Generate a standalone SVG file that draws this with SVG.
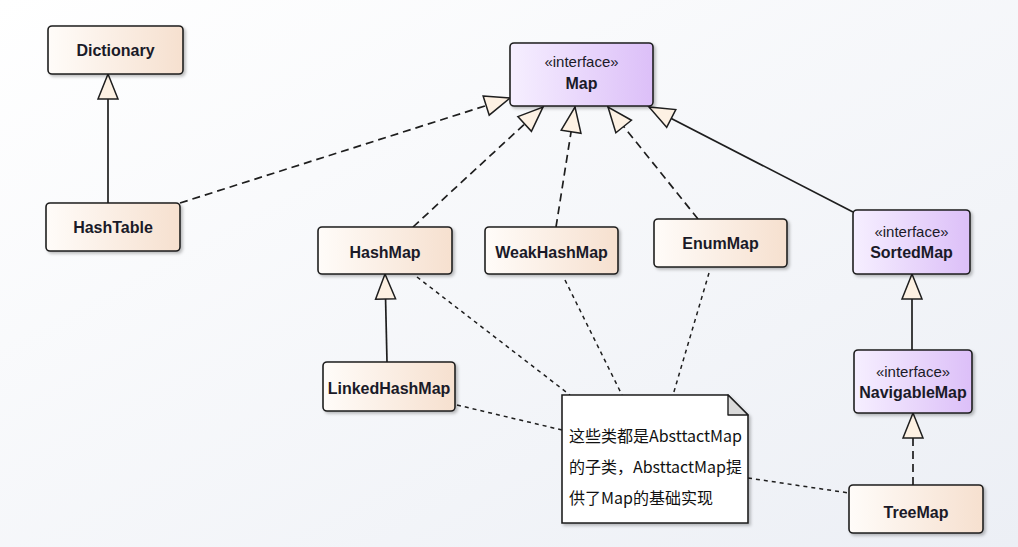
<svg xmlns="http://www.w3.org/2000/svg" width="1018" height="547" viewBox="0 0 1018 547">
<defs>
<linearGradient id="bg" x1="0" y1="0" x2="1" y2="1">
<stop offset="0" stop-color="#ffffff"/>
<stop offset="1" stop-color="#eceff5"/>
</linearGradient>
<linearGradient id="cls" x1="0" y1="0" x2="1" y2="0">
<stop offset="0" stop-color="#fffcf9"/>
<stop offset="1" stop-color="#f6e0cf"/>
</linearGradient>
<linearGradient id="ifc" x1="0" y1="0" x2="1" y2="0">
<stop offset="0" stop-color="#f6efff"/>
<stop offset="1" stop-color="#dcbff8"/>
</linearGradient>
<filter id="sh" x="-10%" y="-10%" width="130%" height="140%">
<feDropShadow dx="2" dy="2" stdDeviation="1.5" flood-color="#000" flood-opacity="0.25"/>
</filter>
<marker id="tri" viewBox="-2 -2 29 24" refX="25" refY="10" markerWidth="29" markerHeight="24" markerUnits="userSpaceOnUse" orient="auto" overflow="visible">
<path d="M0,0 L25,10 L0,20 Z" fill="#fdf1e3" stroke="#1e1e1e" stroke-width="1.5" stroke-linejoin="miter"/>
</marker>
<style>
.box{stroke:#1e1e1e;stroke-width:1.6;filter:url(#sh)}
.c{fill:url(#cls)}
.i{fill:url(#ifc)}
.n{font-family:"Liberation Sans",Arial,sans-serif;font-weight:bold;font-size:16px;fill:#1a1a28;text-anchor:middle}
.s{font-family:"Liberation Sans",Arial,sans-serif;font-size:15px;fill:#1a1a28;text-anchor:middle}
.gen{stroke:#1e1e1e;stroke-width:1.7;fill:none;marker-end:url(#tri)}
.real{stroke:#1e1e1e;stroke-width:1.7;fill:none;stroke-dasharray:8 5;marker-end:url(#tri)}
.dot{stroke:#1e1e1e;stroke-width:1.5;fill:none;stroke-dasharray:4 4}
.note{font-family:"Noto Sans CJK SC","Noto Sans",sans-serif;font-size:16px;fill:#111}
</style>
</defs>
<rect width="1018" height="547" fill="url(#bg)"/>

<g id="connectors">
<line class="gen" x1="108" y1="203" x2="108" y2="74"/>
<line class="real" x1="180" y1="203" x2="510" y2="98"/>
<line class="real" x1="413" y1="227" x2="543" y2="107"/>
<line class="real" x1="556" y1="227" x2="575" y2="107"/>
<line class="real" x1="698" y1="219" x2="608" y2="107"/>
<line class="gen" x1="853" y1="212" x2="649" y2="107"/>
<line class="gen" x1="387" y1="362" x2="385" y2="274"/>
<line class="gen" x1="912" y1="350" x2="912" y2="274"/>
<line class="real" x1="913" y1="485" x2="913" y2="413"/>
<line class="dot" x1="417" y1="277" x2="570" y2="395"/>
<line class="dot" x1="565" y1="280" x2="622" y2="395"/>
<line class="dot" x1="709" y1="273" x2="673" y2="395"/>
<line class="dot" x1="457" y1="405" x2="562" y2="430"/>
<line class="dot" x1="748" y1="478" x2="849" y2="493"/>
</g>

<g id="Dictionary">
<rect class="box c" x="48" y="26" width="135" height="48" rx="4"/>
<text class="n" x="115.5" y="56">Dictionary</text>
</g>
<g id="HashTable">
<rect class="box c" x="46" y="203" width="134" height="48" rx="4"/>
<text class="n" x="113" y="233">HashTable</text>
</g>
<g id="Map">
<rect class="box i" x="510" y="43" width="143" height="63" rx="4"/>
<text class="s" x="581.5" y="67">«interface»</text>
<text class="n" x="581.5" y="89">Map</text>
</g>
<g id="HashMap">
<rect class="box c" x="318" y="227" width="134" height="47" rx="4"/>
<text class="n" x="385" y="258">HashMap</text>
</g>
<g id="WeakHashMap">
<rect class="box c" x="485" y="227" width="133" height="47" rx="4"/>
<text class="n" x="551.5" y="258">WeakHashMap</text>
</g>
<g id="EnumMap">
<rect class="box c" x="654" y="219" width="133" height="48" rx="4"/>
<text class="n" x="720.5" y="249">EnumMap</text>
</g>
<g id="SortedMap">
<rect class="box i" x="853" y="210" width="117" height="64" rx="4"/>
<text class="s" x="911.5" y="237">«interface»</text>
<text class="n" x="911.5" y="258">SortedMap</text>
</g>
<g id="NavigableMap">
<rect class="box i" x="854" y="350" width="118" height="63" rx="4"/>
<text class="s" x="913" y="377">«interface»</text>
<text class="n" x="913" y="398">NavigableMap</text>
</g>
<g id="LinkedHashMap">
<rect class="box c" x="323" y="362" width="132" height="49" rx="4"/>
<text class="n" x="389" y="394">LinkedHashMap</text>
</g>
<g id="TreeMap">
<rect class="box c" x="849" y="485" width="134" height="48" rx="4"/>
<text class="n" x="916" y="518">TreeMap</text>
</g>
<g id="Note">
<polygon points="562,395 728,395 748,415 748,523 562,523" fill="#ffffff" stroke="#1e1e1e" stroke-width="1.6" filter="url(#sh)"/>
<polygon points="728,395 728,415 748,415" fill="#d9d9d9" stroke="#1e1e1e" stroke-width="1.4" stroke-linejoin="round"/>
<text class="note" x="569" y="442">这些类都是AbsttactMap</text>
<text class="note" x="569" y="473">的子类，AbsttactMap提</text>
<text class="note" x="569" y="504">供了Map的基础实现</text>
</g>
</svg>
